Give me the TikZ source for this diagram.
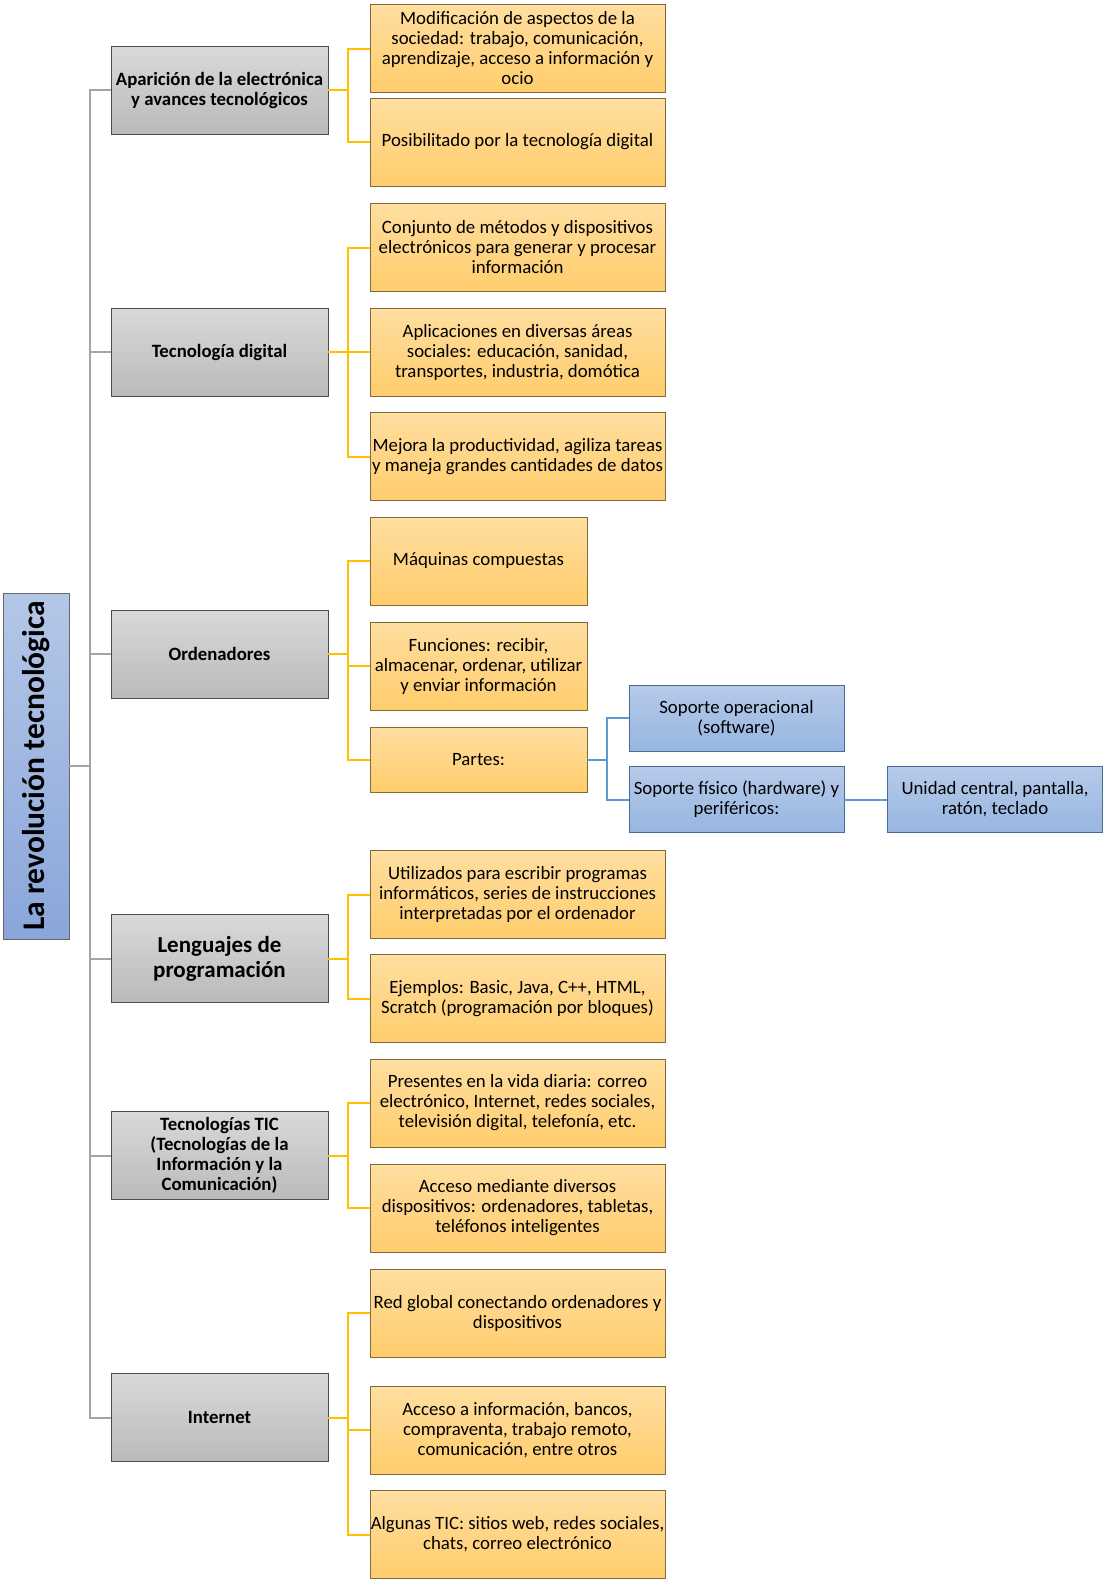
\documentclass[tikz,border=0pt]{standalone}
\usepackage{fontspec}
\setmainfont{Carlito}
\usetikzlibrary{positioning}

\definecolor{trunkgray}{HTML}{A5A5A5}
\definecolor{linkyellow}{HTML}{FFC000}
\definecolor{linkblue}{HTML}{5B9BD5}
\definecolor{greytop}{HTML}{D9D9D9}
\definecolor{greybot}{HTML}{BABABA}
\definecolor{yeltop}{HTML}{FFDEA0}
\definecolor{yelbot}{HTML}{FFCD6C}
\definecolor{yeledge}{HTML}{7F6A3A}
\definecolor{bluetop}{HTML}{B6CAEA}
\definecolor{bluebot}{HTML}{97B6E0}
\definecolor{blueedge}{HTML}{4A6A92}
\definecolor{roottop}{HTML}{B4C7E7}
\definecolor{rootbot}{HTML}{8AA6DA}

\tikzset{
  basebox/.style={draw, align=center, inner sep=0.5pt, font=\fontsize{18.8}{20}\selectfont},
  topicbox/.style={basebox, draw=black!70, top color=greytop, bottom color=greybot,
    minimum width=217, minimum height=88, font=\bfseries\fontsize{18.8}{20}\selectfont},
  ideabox/.style={basebox, draw=yeledge, top color=yeltop, bottom color=yelbot,
    minimum width=295, minimum height=88},
  partbox/.style={basebox, draw=blueedge, top color=bluetop, bottom color=bluebot,
    minimum width=215, minimum height=66},
  trunkline/.style={trunkgray, line width=2pt},
  yelline/.style={linkyellow, line width=2pt},
  blueline/.style={linkblue, line width=2pt}
}

\begin{document}
\begin{tikzpicture}[x=1pt, y=-1pt]
\useasboundingbox (0,0) rectangle (1106,1582);

% main title
\node (root) [basebox, draw=black!60, top color=roottop, bottom color=rootbot, rotate=90,
  minimum width=346, minimum height=66, font=\bfseries\fontsize{31.5}{34}\selectfont]
  at (36,766) {La revolución tecnológica};

% first level
\node (apar) [topicbox] at (219.5,90) {Aparición de la electrónica\\y avances tecnológicos};
\node (digital) [topicbox] at (219.5,352) {Tecnología digital};
\node (orden) [topicbox] at (219.5,654) {Ordenadores};
\node (leng) [topicbox, font=\bfseries\fontsize{23}{25}\selectfont] at (219.5,958.5) {Lenguajes de\\programación};
\node (tic) [topicbox] at (219.5,1155.5) {Tecnologías TIC\\(Tecnologías de la\\Información y la\\Comunicación)};
\node (inter) [topicbox] at (219.5,1417.5) {Internet};

% second level
\node (m1) [ideabox] at (517.5,48.5) {Modificación de aspectos de la\\sociedad: trabajo, comunicación,\\aprendizaje, acceso a información y\\ocio};
\node (m2) [ideabox] at (517.5,142) {Posibilitado por la tecnología digital};
\node (t1) [ideabox] at (517.5,247.5) {Conjunto de métodos y dispositivos\\electrónicos para generar y procesar\\información};
\node (t2) [ideabox] at (517.5,352) {Aplicaciones en diversas áreas\\sociales: educación, sanidad,\\transportes, industria, domótica};
\node (t3) [ideabox] at (517.5,456.5) {Mejora la productividad, agiliza tareas\\y maneja grandes cantidades de datos};
\node (o1) [ideabox, minimum width=217] at (478.5,561) {Máquinas compuestas};
\node (o2) [ideabox, minimum width=217] at (478.5,666) {Funciones: recibir,\\almacenar, ordenar, utilizar\\y enviar información};
\node (o3) [ideabox, minimum width=217, minimum height=65] at (478.5,759.5) {Partes:};
\node (l1) [ideabox] at (517.5,894.5) {Utilizados para escribir programas\\informáticos, series de instrucciones\\interpretadas por el ordenador};
\node (l2) [ideabox] at (517.5,998.5) {Ejemplos: Basic, Java, C++, HTML,\\Scratch (programación por bloques)};
\node (c1) [ideabox] at (517.5,1103) {Presentes en la vida diaria: correo\\electrónico, Internet, redes sociales,\\televisión digital, telefonía, etc.};
\node (c2) [ideabox] at (517.5,1208) {Acceso mediante  diversos\\dispositivos: ordenadores, tabletas,\\teléfonos inteligentes};
\node (i1) [ideabox] at (517.5,1313) {Red global conectando ordenadores y\\dispositivos};
\node (i2) [ideabox] at (517.5,1430) {Acceso a información, bancos,\\compraventa, trabajo remoto,\\comunicación, entre otros};
\node (i3) [ideabox] at (517.5,1534.5) {Algunas TIC: sitios web, redes sociales,\\chats, correo electrónico};

% parts of the computer
\node (soft) [partbox] at (736.5,718) {Soporte operacional\\(software)};
\node (hard) [partbox] at (736.5,799.5) {Soporte físico (hardware) y\\periféricos:};
\node (unid) [partbox] at (995,799.5) {Unidad central, pantalla,\\ratón, teclado};

% connectors
\draw[trunkline] (root.south) -- ++(21,0) coordinate (trunk);
\foreach \t in {apar,digital,orden,leng,tic,inter}
  \draw[trunkline] (trunk) |- (\t.west);
\draw[yelline] (apar.east) -- ++(20,0) |- (m1.west);
\draw[yelline] (apar.east) -- ++(20,0) |- (m2.west);
\draw[yelline] (digital.east) -- ++(20,0) |- (t1.west);
\draw[yelline] (digital.east) -- ++(20,0) |- (t2.west);
\draw[yelline] (digital.east) -- ++(20,0) |- (t3.west);
\draw[yelline] (orden.east) -- ++(20,0) |- (o1.west);
\draw[yelline] (orden.east) -- ++(20,0) |- (o2.west);
\draw[yelline] (orden.east) -- ++(20,0) |- (o3.west);
\draw[yelline] (leng.east) -- ++(20,0) |- (l1.west);
\draw[yelline] (leng.east) -- ++(20,0) |- (l2.west);
\draw[yelline] (tic.east) -- ++(20,0) |- (c1.west);
\draw[yelline] (tic.east) -- ++(20,0) |- (c2.west);
\draw[yelline] (inter.east) -- ++(20,0) |- (i1.west);
\draw[yelline] (inter.east) -- ++(20,0) |- (i2.west);
\draw[yelline] (inter.east) -- ++(20,0) |- (i3.west);
\draw[blueline] (o3.east) -- ++(20,0) |- (soft.west);
\draw[blueline] (o3.east) -- ++(20,0) |- (hard.west);
\draw[blueline] (hard.east) -- (unid.west);
\end{tikzpicture}
\end{document}
